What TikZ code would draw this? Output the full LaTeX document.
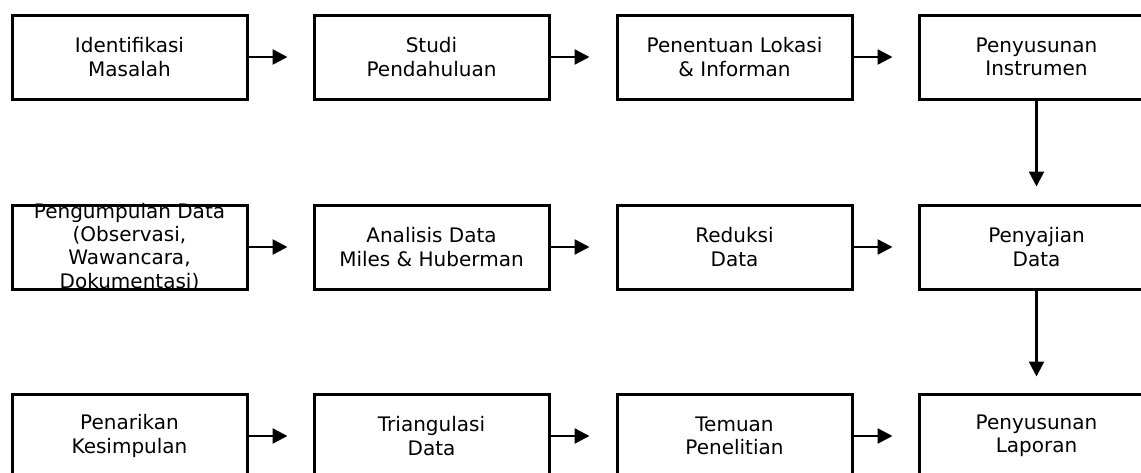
\documentclass[tikz,border=0pt]{standalone}
\usepackage{fontspec}
\setmainfont{DejaVu Sans}
\usetikzlibrary{arrows.meta}
\tikzset{
  box/.style={draw=black, line width=3pt, minimum width=235pt, minimum height=84pt, inner sep=0pt, fill=white},
  txt/.style={align=center, font=\fontsize{20}{23.3}\selectfont, inner sep=0pt},
  arr/.style={line width=2.5pt, -{Triangle[length=15pt,width=15pt]}}
}
\begin{document}
\begin{tikzpicture}[x=1pt,y=-1pt]
\useasboundingbox (0,0) rectangle (1141,472);
\clip (0,0) rectangle (1141,472);
% row 1
\node[box,label={[txt]center:Identifikasi\\Masalah}] (a1) at (129.5,57) {};
\node[box,label={[txt]center:Studi\\Pendahuluan}] (a2) at (431.5,57) {};
\node[box,label={[txt]center:Penentuan Lokasi\\\& Informan}] (a3) at (734.5,57) {};
\node[box,label={[txt]center:Penyusunan\\Instrumen}] (a4) at (1036.5,57) {};
% row 2
\node[box,label={[txt]center:Pengumpulan Data\\(Observasi,\\Wawancara,\\Dokumentasi)}] (b1) at (129.5,247) {};
\node[box,label={[txt]center:Analisis Data\\Miles \& Huberman}] (b2) at (431.5,247) {};
\node[box,label={[txt]center:Reduksi\\Data}] (b3) at (734.5,247) {};
\node[box,label={[txt]center:Penyajian\\Data}] (b4) at (1036.5,247) {};
% row 3
\node[box,label={[txt]center:Penarikan\\Kesimpulan}] (c1) at (129.5,436) {};
\node[box,label={[txt]center:Triangulasi\\Data}] (c2) at (431.5,436) {};
\node[box,label={[txt]center:Temuan\\Penelitian}] (c3) at (734.5,436) {};
\node[box,label={[txt]center:Penyusunan\\Laporan}] (c4) at (1036.5,436) {};
% arrows
\foreach \n in {a1,a2,a3,b1,b2,b3,c1,c2,c3}{
  \coordinate (\n e) at ([xshift=39pt]\n.east);
  \draw[arr] (\n.east) -- (\n e);
}
\coordinate (a4s) at ([yshift=-86pt]a4.south);
\draw[arr] (a4.south) -- (a4s);
\coordinate (b4s) at ([yshift=-86pt]b4.south);
\draw[arr] (b4.south) -- (b4s);
\end{tikzpicture}
\end{document}
